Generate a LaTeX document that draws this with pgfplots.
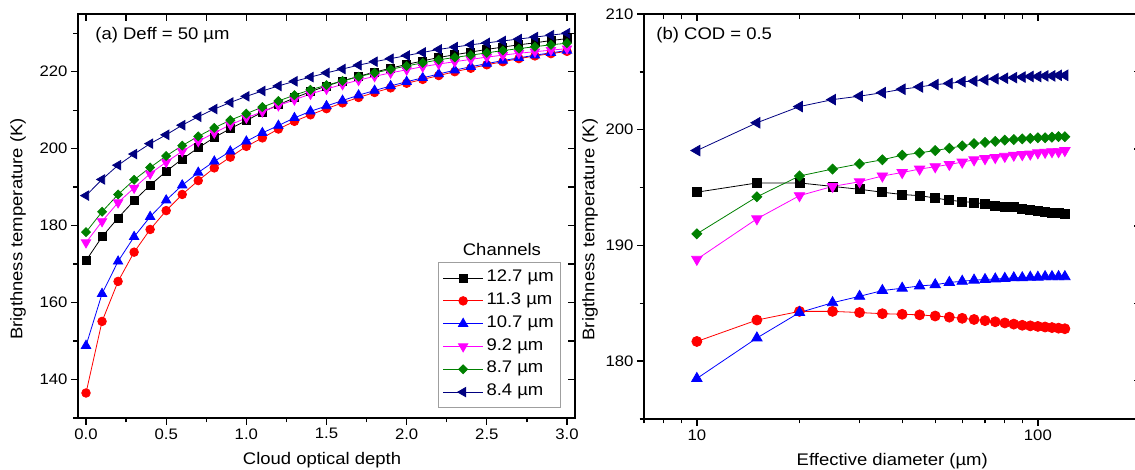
\documentclass[border=0pt]{standalone}
\usepackage{pgfplots}
\usepackage{pgfplotstable}
\pgfplotsset{compat=1.18}
\usepackage{fontspec}
\setmainfont{Liberation Sans}[FakeStretch=1.1]

\definecolor{navyc}{RGB}{0,0,128}
\definecolor{greenc}{RGB}{0,128,0}
\definecolor{magc}{RGB}{255,0,255}

% Brightness temperature (K) versus cloud optical depth, Deff = 50 um
\pgfplotstableread{
cod b127 b113 b107 b92 b87 b84
0.0 170.9 136.5 148.8 175.6 178.3 187.8
0.1 177.1 155.1 162.3 181.1 183.6 192.0
0.2 182.0 165.5 170.7 186.0 188.1 195.7
0.3 186.5 173.1 177.1 189.8 191.9 198.6
0.4 190.5 179.0 182.3 193.5 195.1 201.3
0.5 194.1 183.9 186.6 196.5 198.1 203.6
0.6 197.3 188.1 190.5 199.3 200.8 206.1
0.7 200.2 191.7 193.8 201.9 203.2 208.3
0.8 202.9 195.0 196.7 204.1 205.4 210.3
0.9 205.2 197.8 199.3 206.2 207.4 212.0
1.0 207.3 200.6 201.9 208.0 209.1 213.6
1.1 209.5 202.8 204.1 209.6 210.8 215.0
1.2 211.4 205.1 206.0 211.2 212.4 216.3
1.3 213.2 207.1 208.0 212.7 213.9 217.5
1.4 214.8 208.8 209.7 214.2 215.3 218.6
1.5 216.3 210.4 211.1 215.5 216.5 219.7
1.6 217.6 211.9 212.5 216.7 217.6 220.7
1.7 218.8 213.3 213.9 217.8 218.7 221.7
1.8 219.9 214.6 215.1 218.8 219.7 222.6
1.9 220.9 215.8 216.3 219.7 220.6 223.4
2.0 221.9 217.0 217.4 220.5 221.5 224.2
2.1 222.8 218.0 218.4 221.3 222.3 225.0
2.2 223.7 219.0 219.4 222.0 223.1 225.8
2.3 224.4 220.0 220.4 222.6 223.7 226.4
2.4 225.1 220.9 221.3 223.2 224.3 227.0
2.5 225.8 221.8 222.1 223.8 224.9 227.5
2.6 226.4 222.6 222.9 224.3 225.5 228.0
2.7 227.0 223.4 223.6 224.8 226.0 228.5
2.8 227.5 224.1 224.3 225.2 226.5 229.0
2.9 228.1 224.7 224.9 225.6 227.0 229.5
3.0 228.6 225.3 225.5 226.0 227.4 230.0
}\codtable

% Brightness temperature (K) versus effective diameter (um), COD = 0.5
\pgfplotstableread{
deff b127 b113 b107 b92 b87 b84
10 194.6 181.7 178.5 188.8 191.0 198.2
15 195.4 183.55 182.0 192.3 194.2 200.6
20 195.4 184.3 184.2 194.3 196.0 202.0
25 195.1 184.3 185.05 195.1 196.6 202.6
30 194.85 184.2 185.6 195.5 197.05 202.9
35 194.6 184.1 186.1 196.0 197.4 203.2
40 194.4 184.05 186.3 196.3 197.8 203.5
45 194.3 184.0 186.5 196.6 198.0 203.7
50 194.1 183.9 186.6 196.8 198.2 203.9
55 193.9 183.8 186.8 197.0 198.4 204.0
60 193.8 183.7 186.9 197.2 198.6 204.15
65 193.7 183.6 187.0 197.4 198.8 204.2
70 193.6 183.5 187.05 197.5 198.9 204.3
75 193.45 183.4 187.1 197.6 199.0 204.4
80 193.35 183.3 187.15 197.7 199.1 204.45
85 193.3 183.2 187.2 197.8 199.15 204.5
90 193.15 183.1 187.2 197.85 199.2 204.55
95 193.05 183.05 187.25 197.9 199.25 204.6
100 193.0 183.0 187.25 198.0 199.3 204.6
105 192.9 182.95 187.3 198.05 199.3 204.65
110 192.85 182.9 187.3 198.1 199.35 204.65
115 192.8 182.85 187.3 198.1 199.4 204.7
120 192.7 182.8 187.3 198.2 199.4 204.7
}\defftable

\newcommand{\tickfont}{\fontsize{15.2}{18}\selectfont}
\newcommand{\labfont}{\fontsize{16.8}{20}\selectfont}

\pgfplotsset{
  frame/.style={
    scale only axis,
    axis line style={line width=1.5pt},
    every tick/.append style={line width=1.3pt, black},
    major tick length=7pt, minor tick length=4.5pt,
    tick label style={font=\tickfont},
    label style={font=\labfont},
    /pgf/number format/assume math mode=true,
  },
  mirror/.style={
    frame, tick align=inside,
    xticklabels={}, yticklabels={},
    xtick pos=top, ytick pos=right,
  },
  ch127/.style={black, line width=0.8pt, mark=square*, mark size=#1, mark options={solid}},
  ch113/.style={red, line width=0.8pt, mark=*, mark size=#1, mark options={solid}},
  ch107/.style={blue, line width=0.8pt, mark=triangle*, mark size=#1, mark options={solid}},
  ch92/.style={magc, line width=0.8pt, mark=triangle*, mark size=#1, mark options={solid, rotate=180}},
  ch87/.style={greenc, line width=0.8pt, mark=square*, mark size=#1, mark options={solid, rotate=45}},
  ch84/.style={navyc, line width=0.8pt, mark=triangle*, mark size=#1, mark options={solid, rotate=90}},
}

\begin{document}
\begin{tikzpicture}
\useasboundingbox (0,0) rectangle (1135pt,470pt);

% ---------- (a) optical depth ----------
\begin{axis}[frame,
  at={(78pt,52pt)}, anchor=south west,
  width=497pt, height=404pt,
  xmin=-0.05, xmax=3.05, ymin=130, ymax=235,
  tick align=outside, xtick pos=bottom, ytick pos=left,
  xtick={0,0.5,1,1.5,2,2.5,3},
  minor xtick={0.25,0.75,1.25,1.75,2.25,2.75},
  ytick={140,160,180,200,220},
  minor ytick={130,150,170,190,210,230},
  xticklabel style={/pgf/number format/.cd, fixed, fixed zerofill, precision=1},
  xlabel={Cloud optical depth},
  ylabel={Brigthness temperature (K)},
  xlabel style={at={(rel axis cs:0.491,-0.116)}, anchor=base},
  ylabel style={at={(rel axis cs:-0.1207,0.468)}, anchor=center},
  legend cell align=left,
  legend image code/.code={\draw[mark repeat=2, mark phase=2, #1] plot coordinates {(0pt,0pt) (20pt,0pt) (40pt,0pt)};},
  legend style={at={(rel axis cs:0.972,0.025)}, anchor=south east,
    draw=gray!75, line width=0.8pt, fill=white, font=\labfont,
    inner xsep=4pt, inner ysep=4pt, row sep=0pt, column sep=0pt,
    nodes={inner sep=3pt, text height=12pt, text depth=4.8pt}},
]
\addplot[ch127=4pt] table[x=cod, y=b127] {\codtable};
\addlegendentry{12.7 µm}
\addplot[ch113=4.3pt] table[x=cod, y=b113] {\codtable};
\addlegendentry{11.3 µm}
\addplot[ch107=5.4pt] table[x=cod, y=b107] {\codtable};
\addlegendentry{10.7 µm}
\addplot[ch92=5.4pt] table[x=cod, y=b92] {\codtable};
\addlegendentry{9.2 µm}
\addplot[ch87=3.15pt] table[x=cod, y=b87] {\codtable};
\addlegendentry{8.7 µm}
\addplot[ch84=5.4pt] table[x=cod, y=b84] {\codtable};
\addlegendentry{8.4 µm}
\node[anchor=base west, font=\labfont] at (rel axis cs:0.028,0.938) {(a) Deff = 50 µm};
\node[anchor=center, font=\labfont] at (rel axis cs:0.853,0.418) {Channels};
\end{axis}
\begin{axis}[mirror,
  at={(78pt,52pt)}, anchor=south west,
  width=497pt, height=404pt,
  xmin=-0.05, xmax=3.05, ymin=130, ymax=235,
  xtick={0,0.5,1,1.5,2,2.5,3},
  minor xtick={0.25,0.75,1.25,1.75,2.25,2.75},
  ytick={140,160,180,200,220},
  minor ytick={130,150,170,190,210,230},
  minor tick length=7pt,
]
\end{axis}

% ---------- (b) effective diameter ----------
\begin{axis}[frame,
  at={(644pt,51pt)}, anchor=south west,
  width=496.5pt, height=405pt,
  xmode=log, xmin=7, xmax=200, ymin=175, ymax=210,
  tick align=outside, xtick pos=bottom, ytick pos=left,
  xtick={10,100}, xticklabels={10,100},
  minor xtick={7,8,9,20,30,40,50,60,70,80,90,200},
  ytick={180,190,200,210},
  minor ytick={175,185,195,205},
  xlabel={Effective diameter (µm)},
  ylabel={Brigthness temperature (K)},
  xlabel style={at={(rel axis cs:0.5,-0.1136)}, anchor=base},
  ylabel style={at={(rel axis cs:-0.1088,0.468)}, anchor=center},
]
\addplot[ch127=4.5pt] table[x=deff, y=b127] {\defftable};
\addplot[ch113=5pt] table[x=deff, y=b113] {\defftable};
\addplot[ch107=6pt] table[x=deff, y=b107] {\defftable};
\addplot[ch92=6pt] table[x=deff, y=b92] {\defftable};
\addplot[ch87=3.5pt] table[x=deff, y=b87] {\defftable};
\addplot[ch84=6pt] table[x=deff, y=b84] {\defftable};
\node[anchor=base west, font=\labfont] at (rel axis cs:0.018,0.936) {(b) COD = 0.5};
\end{axis}
\begin{axis}[mirror,
  at={(644pt,51pt)}, anchor=south west,
  width=496.5pt, height=405pt,
  xmode=log, xmin=7, xmax=200, ymin=130, ymax=235,
  xtick={10,100},
  minor xtick={7,8,9,20,30,40,50,60,70,80,90,200},
  ytick={140,160,180,200,220}, minor ytick={},
  minor tick length=5pt,
]
\end{axis}
\end{tikzpicture}
\end{document}
